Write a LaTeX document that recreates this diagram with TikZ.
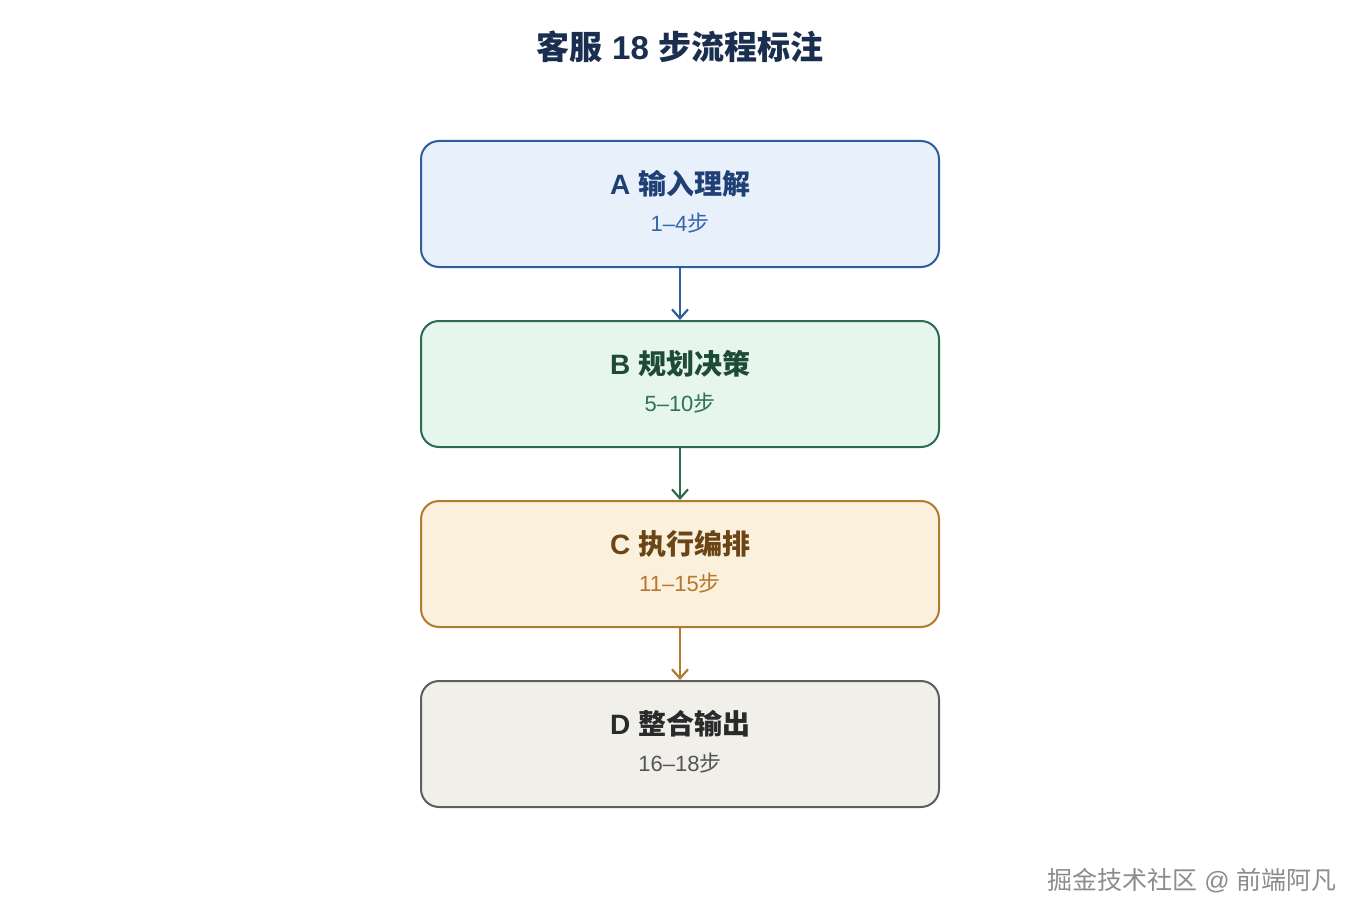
\documentclass[tikz,border=0pt]{standalone}
\usepackage{fontspec}
\setmainfont{Noto Sans CJK SC}
\newfontfamily\lat{Liberation Sans}
\usetikzlibrary{arrows.meta,positioning}
\definecolor{titlec}{HTML}{1A2E4F}
\definecolor{aFill}{HTML}{E8F1FB}\definecolor{aLine}{HTML}{2F5E9E}\definecolor{aHead}{HTML}{1F3F75}\definecolor{aSub}{HTML}{3766A8}
\definecolor{bFill}{HTML}{E6F5EE}\definecolor{bLine}{HTML}{2F6B50}\definecolor{bHead}{HTML}{1E4B35}\definecolor{bSub}{HTML}{2F7355}
\definecolor{cFill}{HTML}{FAF0DC}\definecolor{cLine}{HTML}{B07A30}\definecolor{cHead}{HTML}{6B4515}\definecolor{cSub}{HTML}{B5782F}
\definecolor{dFill}{HTML}{F0EFEA}\definecolor{dLine}{HTML}{5E5E5E}\definecolor{dHead}{HTML}{2A2A2A}\definecolor{dSub}{HTML}{555555}
\newcommand{\lt}[1]{{\lat #1}}
\tikzset{
  stage/.style={draw=#1Line, fill=#1Fill, line width=2pt, rounded corners=18pt,
    minimum width=518pt, minimum height=126pt, inner sep=0pt},
  headtxt/.style={text=#1Head, font=\fontsize{28}{32}\selectfont\bfseries},
  subtxt/.style={text=#1Sub, font=\fontsize{22}{26}\selectfont},
  flow/.style={draw=#1Line, line width=2.2pt, -{Straight Barb[length=9pt,width=16pt,line width=2.2pt]}}
}
\begin{document}
\begin{tikzpicture}[x=1pt,y=-1pt]
\useasboundingbox (0,0) rectangle (1360,920);
\fill[white] (0,0) rectangle (1360,920);
\node[text=titlec, font=\fontsize{33}{38}\selectfont\bfseries] (title) at (680,47) {客服\lt{ 18 }步流程标注};

\node[stage=a] (A) at (680,204) {};
\node[stage=b] (B) at (680,384) {};
\node[stage=c] (C) at (680,564) {};
\node[stage=d] (D) at (680,744) {};

\node[headtxt=a] (Ah) at (680,184) {\lt{A }输入理解};
\node[subtxt=a] (As) at (680,223) {\lt{1–4}步};
\node[headtxt=b] (Bh) at (680,364) {\lt{B }规划决策};
\node[subtxt=b] (Bs) at (680,403) {\lt{5–10}步};
\node[headtxt=c] (Ch) at (680,544) {\lt{C }执行编排};
\node[subtxt=c] (Cs) at (680,583) {\lt{11–15}步};
\node[headtxt=d] (Dh) at (680,724) {\lt{D }整合输出};
\node[subtxt=d] (Ds) at (680,763) {\lt{16–18}步};

\draw[flow=a] (A.south) -- (B.north);
\draw[flow=b] (B.south) -- (C.north);
\draw[flow=c] (C.south) -- (D.north);

\node[text=black!45, font=\fontsize{25}{28}\selectfont] (wm) at (1192,881) {掘金技术社区\lt{ @ }前端阿凡};
\end{tikzpicture}
\end{document}
